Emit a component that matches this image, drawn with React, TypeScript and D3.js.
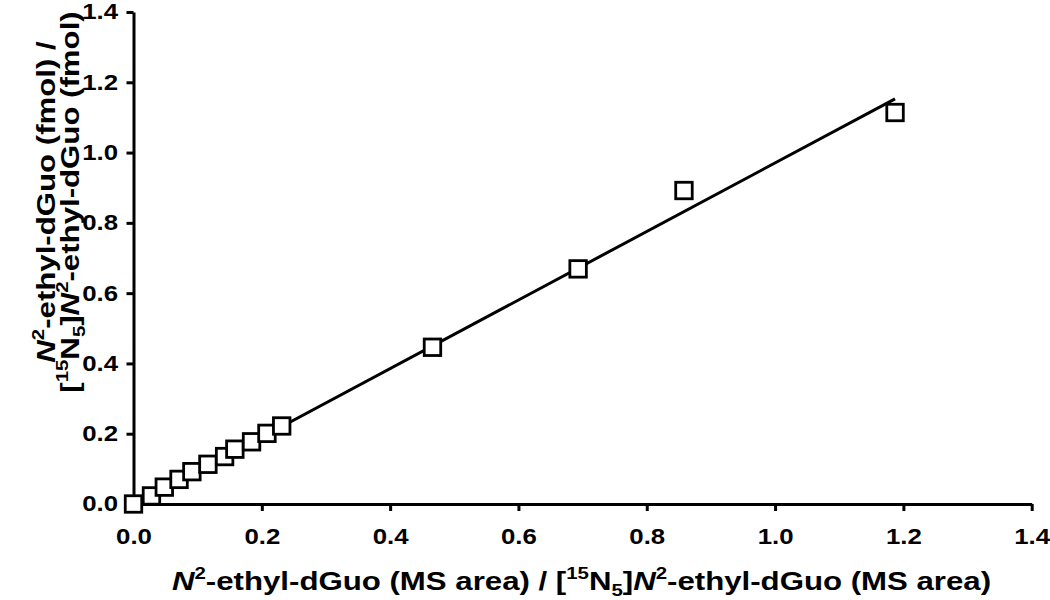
import React, { useRef, useEffect } from "react";
import * as d3 from "d3";

// measured ratios (x = MS area ratio, y = fmol ratio)
const areaRatio = [0, 0.028, 0.048, 0.071, 0.091, 0.116, 0.142, 0.158, 0.184, 0.208, 0.231, 0.466, 0.693, 0.858, 1.187];
const amountRatio = [0, 0.023, 0.048, 0.07, 0.092, 0.113, 0.135, 0.156, 0.177, 0.201, 0.222, 0.446, 0.669, 0.892, 1.114];

// regression line end points
const fitX = [0, 1.187];
const fitY = [-0.005, 1.153];

const xTicks = [0, 0.2, 0.4, 0.6, 0.8, 1.0, 1.2, 1.4];
const yTicks = [0, 0.2, 0.4, 0.6, 0.8, 1.0, 1.2, 1.4];

const FONT = "'Liberation Sans', Arial, Helvetica, sans-serif";
const STRETCH = 1.2; // the original type is set wider than Arial bold

const App = () => {
  const svgRef = useRef<SVGSVGElement>(null);

  useEffect(() => {
    const width = 1050;
    const height = 600;
    const marginLeft = 133.5;
    const marginRight = 18.3;
    const marginTop = 12;
    const marginBottom = 96;

    const svg = d3.select(svgRef.current);
    svg.selectAll("*").remove();

    const x = d3.scaleLinear().domain([0, 1.4]).range([marginLeft, width - marginRight]);
    const y = d3.scaleLinear().domain([0, 1.4]).range([height - marginBottom, marginTop]);

    // --- Axes ---
    const xAxisGroup = svg
      .append("g")
      .attr("transform", `translate(0,${height - marginBottom})`)
      .call(
        d3.axisBottom(x).tickValues(xTicks).tickFormat((d) => (d as number).toFixed(1)).tickSize(7).tickSizeOuter(0)
      );

    const yAxisGroup = svg
      .append("g")
      .attr("transform", `translate(${marginLeft},0)`)
      .call(
        d3.axisLeft(y).tickValues(yTicks).tickFormat((d) => (d as number).toFixed(1)).tickSize(7).tickSizeOuter(0)
      );

    [xAxisGroup, yAxisGroup].forEach((g) => {
      g.select(".domain").attr("stroke", "#000").attr("stroke-width", 3);
      g.selectAll(".tick line").attr("stroke", "#000").attr("stroke-width", 3);
      g.selectAll(".tick text")
        .attr("fill", "#000")
        .attr("transform", `scale(${STRETCH},1)`)
        .style("font-family", FONT)
        .style("font-size", "21.5px")
        .style("font-weight", "bold");
    });
    xAxisGroup.selectAll(".tick text").attr("dy", null).attr("y", 40);
    yAxisGroup.selectAll(".tick text").attr("x", -15.5 / STRETCH);

    // --- Fit line ---
    const line = d3
      .line<number>()
      .x((d) => x(d))
      .y((_, i) => y(fitY[i]));

    svg
      .append("path")
      .datum(fitX)
      .attr("fill", "none")
      .attr("stroke", "#000")
      .attr("stroke-width", 3)
      .attr("d", line);

    // --- Square markers ---
    const size = 16.5;
    svg
      .append("g")
      .selectAll("rect")
      .data(areaRatio)
      .join("rect")
      .attr("x", (d) => x(d) - size / 2)
      .attr("y", (_, i) => y(amountRatio[i]) - size / 2)
      .attr("width", size)
      .attr("height", size)
      .attr("fill", "#fff")
      .attr("stroke", "#000")
      .attr("stroke-width", 2.8);

    const sup = 11;
    const sub = 6;
    const small = "17px";

    // --- X title ---
    const xTitle = svg
      .append("text")
      .attr("text-anchor", "start")
      .attr("transform", `translate(172,590) scale(${STRETCH},1)`)
      .style("font-family", FONT)
      .style("font-size", "26px")
      .style("font-weight", "bold")
      .attr("fill", "#000");
    xTitle.append("tspan").style("font-style", "italic").text("N");
    xTitle.append("tspan").attr("dy", -sup).style("font-size", small).text("2");
    xTitle.append("tspan").attr("dy", sup).text("-ethyl-dGuo (MS area) / [");
    xTitle.append("tspan").attr("dy", -sup).style("font-size", small).text("15");
    xTitle.append("tspan").attr("dy", sup).text("N");
    xTitle.append("tspan").attr("dy", sub).style("font-size", small).text("5");
    xTitle.append("tspan").attr("dy", -sub).text("]");
    xTitle.append("tspan").style("font-style", "italic").text("N");
    xTitle.append("tspan").attr("dy", -sup).style("font-size", small).text("2");
    xTitle.append("tspan").attr("dy", sup).text("-ethyl-dGuo (MS area)");

    // --- Y title (two rotated lines) ---
    const yCenter = 202;
    const yTitle = svg
      .append("text")
      .attr("text-anchor", "middle")
      .attr("transform", `translate(55,${yCenter}) rotate(-90) scale(${STRETCH},1)`)
      .style("font-family", FONT)
      .style("font-size", "26px")
      .style("font-weight", "bold")
      .attr("fill", "#000");
    yTitle.append("tspan").style("font-style", "italic").text("N");
    yTitle.append("tspan").attr("dy", -sup).style("font-size", small).text("2");
    yTitle.append("tspan").attr("dy", sup).text("-ethyl-dGuo (fmol) /");

    const yTitle2 = svg
      .append("text")
      .attr("text-anchor", "middle")
      .attr("transform", `translate(79,${yCenter}) rotate(-90) scale(${STRETCH},1)`)
      .style("font-family", FONT)
      .style("font-size", "26px")
      .style("font-weight", "bold")
      .attr("fill", "#000");
    yTitle2.append("tspan").text("[");
    yTitle2.append("tspan").attr("dy", -sup).style("font-size", small).text("15");
    yTitle2.append("tspan").attr("dy", sup).text("N");
    yTitle2.append("tspan").attr("dy", sub).style("font-size", small).text("5");
    yTitle2.append("tspan").attr("dy", -sub).text("]");
    yTitle2.append("tspan").style("font-style", "italic").text("N");
    yTitle2.append("tspan").attr("dy", -sup).style("font-size", small).text("2");
    yTitle2.append("tspan").attr("dy", sup).text("-ethyl-dGuo (fmol)");
  }, []);

  return (
    <div style={{ position: "absolute", left: 0, top: 0 }}>
      <svg ref={svgRef} width={1050} height={600} style={{ display: "block", background: "#fff" }}></svg>
    </div>
  );
};

export default App;
